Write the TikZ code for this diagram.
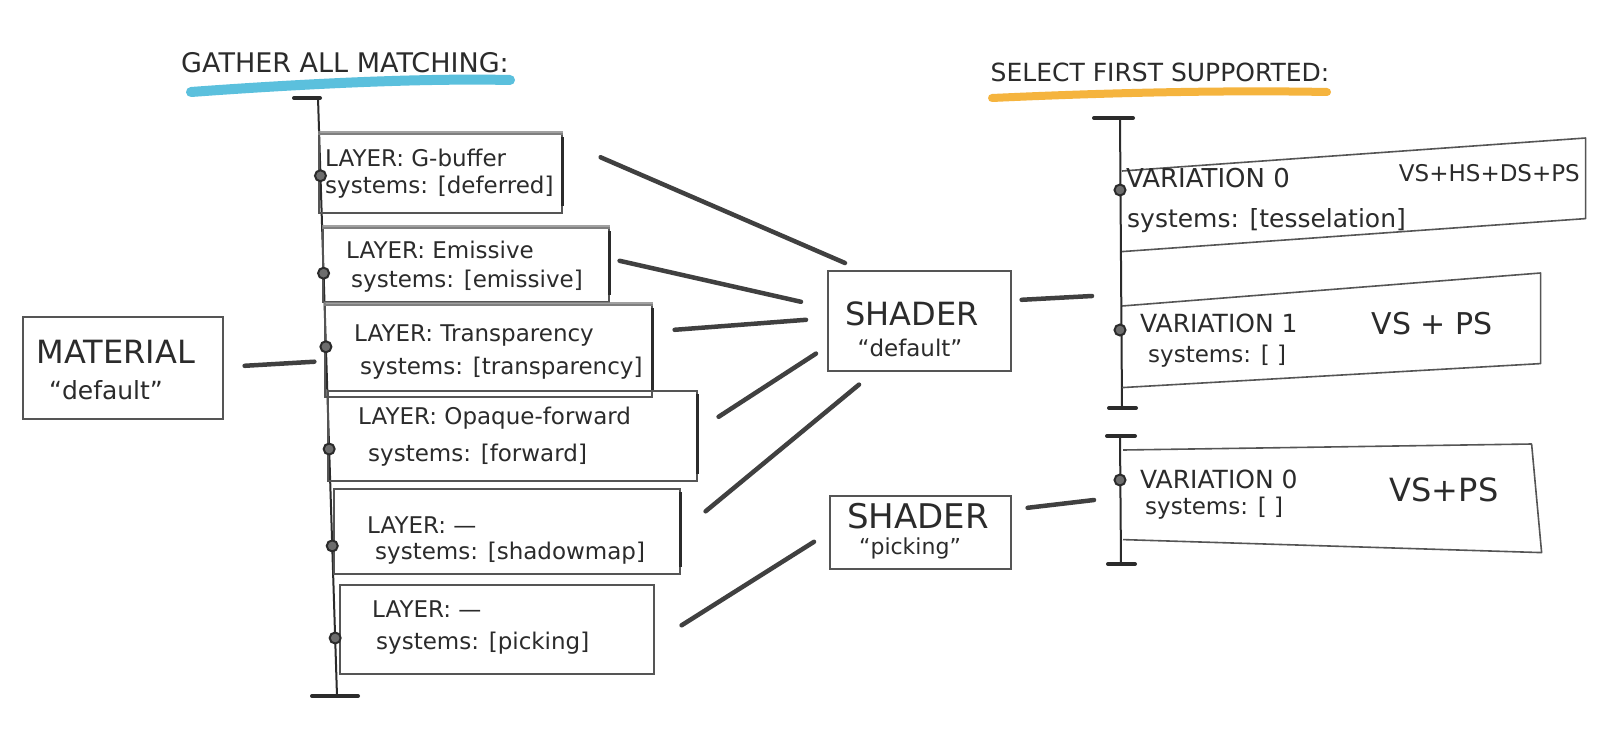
\documentclass[tikz,border=0pt]{standalone}
\usepackage{fontspec}
\setmainfont{DejaVu Sans}
\usetikzlibrary{calc}
\definecolor{ink}{HTML}{2B2B2B}
\definecolor{pencil}{HTML}{555555}
\definecolor{shade}{HTML}{8A8A8A}
\definecolor{cyanmark}{HTML}{3FB5D8}
\definecolor{orangemark}{HTML}{F5AC2A}
\newcommand{\fsz}[2]{\fontsize{#1}{#2}\selectfont}
\begin{document}
\begin{tikzpicture}[x=1pt,y=-1pt,
  box/.style={draw=pencil, line width=1.6pt, rectangle, inner sep=0pt, anchor=north west},
  boxline/.style={draw=pencil, line width=1.6pt, line join=round},
  txt/.style={text=ink, anchor=west, inner sep=0pt, font=\fsz{23}{28}},
  ctr/.style={text=ink, inner sep=0pt},
  ttl/.style={text=ink, inner sep=0pt, font=\fsz{27}{30}},
  conn/.style={draw=ink!90, line width=4.5pt, line cap=round},
  rail/.style={draw=ink, line width=2pt},
  tickmark/.style={draw=ink, line width=4pt, line cap=round},
  dot/.style={circle, draw=ink, fill=shade!70!ink, line width=2pt, minimum size=11pt, inner sep=0pt},
  edgethick/.style={draw=ink, line width=3.2pt},
  topshade/.style={draw=shade, line width=4pt, opacity=0.8},
]
\useasboundingbox[fill=white] (0,0) rectangle (1600,752);

% titles
\draw[cyanmark, line width=10pt, line cap=round, opacity=0.85] (191,92) .. controls (300,84) and (420,78) .. (510,80);
\node[ttl] (t1) at (345,63) {GATHER ALL MATCHING:};
\draw[orangemark, line width=8pt, line cap=round, opacity=0.9] (992,98) .. controls (1100,93) and (1220,90) .. (1327,92);
\node[ttl, font=\fsz{25}{28}] (t2) at (1160,72) {SELECT FIRST SUPPORTED:};

% material
\node[box, minimum width=200pt, minimum height=102pt] (mat) at (22,316) {};
\node[ctr, font=\fsz{32}{34}] (matt) at (116,352) {MATERIAL};
\node[ctr, font=\fsz{25}{28}] (matd) at (106,390) {“default”};

% left rail
\coordinate (lt) at (318,98);
\coordinate (lb) at (337,696);
\draw[rail] (lt) -- (lb);
\draw[tickmark] ($(lt)+(-24,0)$) -- ($(lt)+(2,0)$);
\draw[tickmark] ($(lb)+(-25,0)$) -- ($(lb)+(21,0)$);
\coordinate (lm) at ($(lt)!0.441!(lb)$);

% layer boxes
\node[box, minimum width=243pt, minimum height=79pt] (l1) at (318,133) {};
\node[box, minimum width=286pt, minimum height=74pt] (l2) at (322,227) {};
\node[box, minimum width=327pt, minimum height=92pt] (l3) at (324,304) {};
\node[box, minimum width=369pt, minimum height=90pt] (l4) at (327,390) {};
\node[box, minimum width=346pt, minimum height=85pt] (l5) at (333,488) {};
\node[box, minimum width=314pt, minimum height=89pt] (l6) at (339,584) {};
\foreach \b in {l1,l2,l3} {\draw[topshade] (\b.north west) -- (\b.north east);}
\foreach \b in {l1,l2,l3,l4,l5} {\draw[edgethick] ($(\b.north east)+(0,4)$) -- ($(\b.south east)+(0,-8)$);}

\node[txt] (l1a) at (325,158) {LAYER: G-buffer};
\node[txt] (l1b) at (325,187) {systems: [deferred]};
\node[txt] (l2a) at (346,250) {LAYER: Emissive};
\node[txt] (l2b) at (351,281) {systems: [emissive]};
\node[txt] (l3a) at (354,336) {LAYER: Transparency};
\node[txt] (l3b) at (360,368) {systems: [transparency]};
\node[txt] (l4a) at (358,418) {LAYER: Opaque-forward};
\node[txt] (l4b) at (368,455) {systems: [forward]};
\node[txt] (l5a) at (367,525) {LAYER: —};
\node[txt] (l5b) at (375,553) {systems: [shadowmap]};
\node[txt] (l6a) at (372,609) {LAYER: —};
\node[txt] (l6b) at (376,643) {systems: [picking]};

\foreach \p/\n in {0.130/d1,0.293/d2,0.416/d3,0.587/d4,0.749/d5,0.903/d6}
  {\node[dot] (\n) at ($(lt)!\p!(lb)$) {};}

% shaders
\node[box, minimum width=183pt, minimum height=100pt] (sd) at (827,270) {};
\node[ctr, font=\fsz{32}{34}] (sda) at (912,314) {SHADER};
\node[ctr, font=\fsz{23}{26}] (sdb) at (910,348) {“default”};
\node[box, minimum width=181pt, minimum height=73pt] (sp) at (829,495) {};
\node[ctr, font=\fsz{34}{36}] (spa) at (918,516) {SHADER};
\node[ctr, font=\fsz{22}{24}] (spb) at (910,548) {“picking”};

% connectors
\draw[conn] ($(mat.east)+(21,-2)$) -- ($(lm)+(-12,0)$);
\draw[conn] ($(l1.east)+(38,-16)$) -- ($(sd.north west)+(18,-7)$);
\draw[conn] ($(l2.east)+(10,-4)$) -- ($(sd.west)+(-26,-19)$);
\draw[conn] ($(l3.east)+(22,-21)$) -- ($(sd.west)+(-21,-1)$);
\draw[conn] ($(l4.east)+(21,-19)$) -- ($(sd.south west)+(-11,-18)$);
\draw[conn] ($(l5.east)+(25,-20)$) -- ($(sd.south west)+(32,13)$);
\draw[conn] ($(l6.east)+(27,-4)$) -- ($(sp.west)+(-15,9.5)$);

% right rails
\coordinate (r1t) at (1120,118);
\coordinate (r1b) at (1122,408);
\coordinate (r2t) at (1120,436);
\coordinate (r2b) at (1121,564);
\draw[rail] (r1t) -- (r1b);
\draw[rail] (r2t) -- (r2b);
\draw[tickmark] ($(r1t)+(-26,0)$) -- ($(r1t)+(13,0)$);
\draw[tickmark] ($(r1b)+(-13,0)$) -- ($(r1b)+(14,0)$);
\draw[tickmark] ($(r2t)+(-13,0)$) -- ($(r2t)+(15,0)$);
\draw[tickmark] ($(r2b)+(-13,0)$) -- ($(r2b)+(14,0)$);
\coordinate (r1m) at (1120,296);
\coordinate (r2m) at (1120,500);

\draw[conn] ($(sd.east)+(10,-21)$) -- ($(r1m)+(-28,0)$);
\draw[conn] ($(sp.east)+(16,-24.5)$) -- ($(r2m)+(-26,0)$);

% variation boxes
\node[box, draw=none, minimum width=462pt, minimum height=112pt] (v0) at (1122,138) {};
\draw[boxline] ($(v0.north west)+(0,33)$) -- (v0.north east) -- ($(v0.south east)+(0,-33)$) -- (v0.south west);
\node[box, draw=none, minimum width=417pt, minimum height=113pt] (v1) at (1122,273) {};
\draw[boxline] ($(v1.north west)+(0,33)$) -- (v1.north east) -- ($(v1.south east)+(0,-24)$) -- (v1.south west);
\node[box, draw=none, minimum width=417pt, minimum height=107pt] (v2) at (1123,444) {};
\draw[boxline] ($(v2.north west)+(0,6)$) -- ($(v2.north east)+(-10,0)$) -- (v2.south east) -- ($(v2.south west)+(0,-13)$);

\node[txt, font=\fsz{26}{28}] (v0a) at (1126,178) {VARIATION 0};
\node[txt, font=\fsz{25}{28}] (v0b) at (1127,221) {systems: [tesselation]};
\node[txt, font=\fsz{25}{28}] (v1a) at (1140,323) {VARIATION 1};
\node[txt, font=\fsz{23}{26}] (v1b) at (1148,356) {systems: [ ]};
\node[txt, font=\fsz{25}{28}] (v2a) at (1140,479) {VARIATION 0};
\node[txt, font=\fsz{23}{26}] (v2b) at (1145,508) {systems: [ ]};
\node[ctr, anchor=east, font=\fsz{23}{26}] (v0s) at (1580,173) {VS+HS+DS+PS};
\node[ctr, font=\fsz{30}{32}] (v1s) at (1432,324) {VS + PS};
\node[ctr, font=\fsz{32}{34}] (v2s) at (1444,490) {VS+PS};

\node[dot] (e0) at (1120,190) {};
\node[dot] (e1) at (1120,330) {};
\node[dot] (e2) at (1120,480) {};
\end{tikzpicture}
\end{document}
